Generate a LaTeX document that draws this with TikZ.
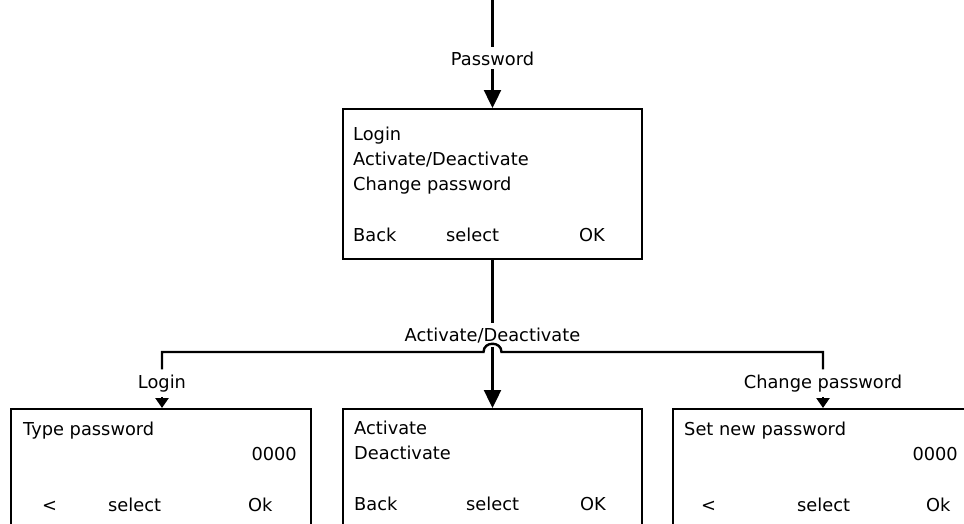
\documentclass[tikz,border=0pt]{standalone}
\usepackage{fontspec}
\setmainfont{DejaVu Sans}
\usetikzlibrary{arrows.meta,positioning}
\begin{document}
\begin{tikzpicture}[
    x=1pt,y=-1pt,
    every node/.style={font=\fontsize{17.8}{20}\selectfont,inner sep=0pt},
    screen/.style={draw,line width=2.4pt,anchor=north west,
        minimum width=#1,minimum height=150pt},
    wire/.style={line width=2.4pt},
    bigtip/.style={-{Triangle[length=18pt,width=17pt]}},
    smalltip/.style={-{Triangle[length=10pt,width=13pt]}},
    lbl/.style={anchor=base,inner sep=4pt},
    txt/.style={anchor=base west}]
    \useasboundingbox (0,0) rectangle (964,523);
    \clip (0,0) rectangle (964,523);
    % screens
    \node[screen=298.6pt,minimum height=149.6pt] (menu) at (342,108) {};
    \node[screen=299.6pt] (typepw) at (10,408) {};
    \node[screen=298.6pt] (actbox) at (342,408) {};
    \node[screen=320pt] (newpw) at (672,408) {};
    % menu texts
    \node[txt] (m1) at (353,140) {Login};
    \node[txt] (m2) at (353,165) {Activate/Deactivate};
    \node[txt] (m3) at (353,190) {Change password};
    \node[txt] (m4) at (353,241) {Back};
    \node[txt] (m5) at (446,241) {select};
    \node[txt] (m6) at (579,241) {OK};
    % login screen
    \node[txt] (t1) at (23,435) {Type password};
    \node[anchor=base east] (t2) at (297,460) {0000};
    \node[txt] (t3) at (42,511) {<};
    \node[txt] (t4) at (108,511) {select};
    \node[txt] (t5) at (248,511) {Ok};
    % activate screen
    \node[txt] (a1) at (354,434) {Activate};
    \node[txt] (a2) at (354,459) {Deactivate};
    \node[txt] (a3) at (354,510) {Back};
    \node[txt] (a4) at (466,510) {select};
    \node[txt] (a5) at (580,510) {OK};
    % new password screen
    \node[txt] (n1) at (684,435) {Set new password};
    \node[anchor=base east] (n2) at (958,460) {0000};
    \node[txt] (n3) at (701,511) {<};
    \node[txt] (n4) at (797,511) {select};
    \node[txt] (n5) at (926,511) {Ok};
    % edge labels
    \node[lbl] (pw) at (492.5,65) {Password};
    \node[lbl] (actdeact) at (492.5,341) {Activate/Deactivate};
    \node[lbl,inner sep=5pt] (login) at (162,388) {Login};
    \node[lbl,inner sep=5pt] (chpw) at (823,388) {Change password};
    \coordinate (entry) at (492.5,0);
    \coordinate (hopL) at (483.5,352);
    \coordinate (hopR) at (501.5,352);
    % connectors
    \draw[wire] (entry) -- (pw.north);
    \draw[wire,bigtip] (pw.south) -- (menu.north);
    \draw[wire] (menu.south) -- (actdeact.north);
    \draw[wire,bigtip] (actdeact.south) -- (actbox.north);
    \draw[wire] (login.north) |- (hopL)
        .. controls (483.5,341) and (501.5,341) .. (hopR) -| (chpw.north);
    \draw[wire,smalltip] (login.south) -- (login.south |- typepw.north);
    \draw[wire,smalltip] (chpw.south) -- (chpw.south |- newpw.north);
\end{tikzpicture}
\end{document}
